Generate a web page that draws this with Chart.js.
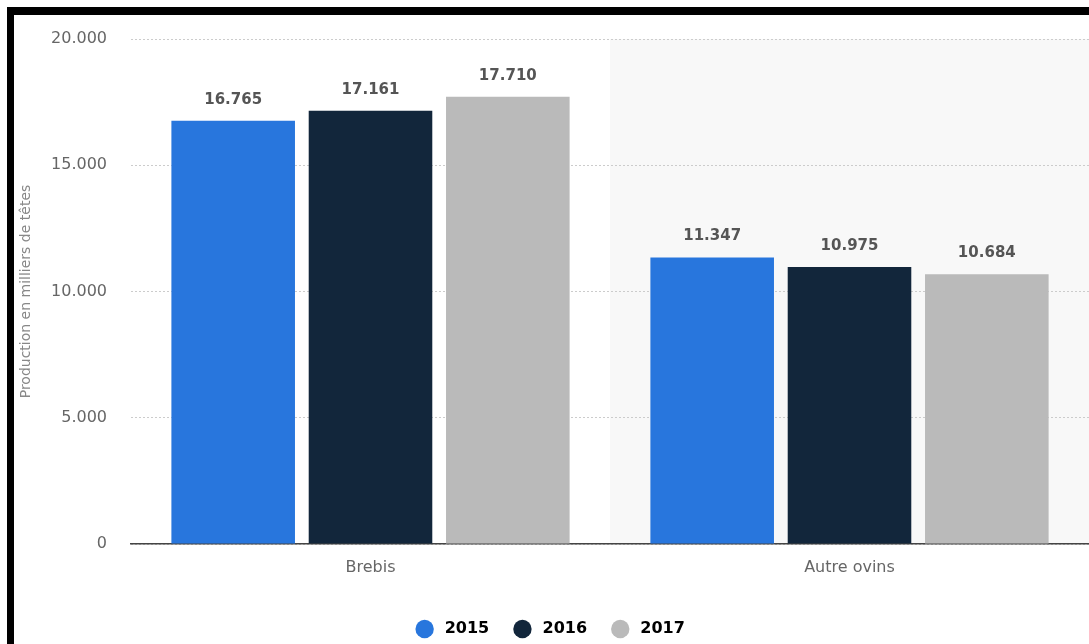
<!DOCTYPE html>
<html>
<head>
<meta charset="utf-8">
<script src="https://cdn.jsdelivr.net/npm/chart.js@4/dist/chart.umd.min.js"></script>
<style>
  html, body { margin: 0; padding: 0; background: #fff; overflow: hidden; }
  #frameLeft { position: absolute; left: 7px; top: 7px; width: 7px; height: 637px; background: #000; }
  #frameTop { position: absolute; left: 7px; top: 7px; width: 1082px; height: 8px; background: #000; }
  #wrap { position: absolute; left: 14px; top: 14px; width: 1075px; height: 633px; }
</style>
</head>
<body>
<div id="frameLeft"></div>
<div id="frameTop"></div>
<div id="wrap"><canvas id="ovinsChart"></canvas></div>
<script>
const categories = ["Brebis", "Autre ovins"];
const years = ["2015", "2016", "2017"];
const values2015 = [16765, 11347];
const values2016 = [17161, 10975];
const values2017 = [17710, 10684];
const yTicks = [0, 5000, 10000, 15000, 20000];

const colors = ["#2876dd", "#12263b", "#bababa"];
const font = "DejaVu Sans";

function fmt(v) {
    return String(v).replace(/\B(?=(\d{3})+(?!\d))/g, ".");
}

// light band behind the second category
const bandPlugin = {
    id: "band",
    beforeDraw(chart) {
        const ctx = chart.ctx;
        const x = chart.scales.x;
        const area = chart.chartArea;
        const w = (x.right - x.left) / categories.length;
        ctx.save();
        ctx.fillStyle = "#f8f8f8";
        ctx.fillRect(x.left + w, area.top, w, area.bottom - area.top);
        ctx.restore();
    }
};

// value labels above the bars
const valueLabels = {
    id: "valueLabels",
    afterDatasetsDraw(chart) {
        const ctx = chart.ctx;
        ctx.save();
        ctx.font = "bold 15px '" + font + "'";
        ctx.fillStyle = "#555555";
        ctx.textAlign = "center";
        ctx.textBaseline = "middle";
        chart.data.datasets.forEach((ds, i) => {
            chart.getDatasetMeta(i).data.forEach((bar, j) => {
                ctx.fillText(fmt(ds.data[j]), bar.x, bar.y - 21);
            });
        });
        ctx.restore();
    }
};

const legendText = [" 2015   ", " 2016   ", " 2017"];

const ctx = document.getElementById("ovinsChart").getContext("2d");
const myChart = new Chart(ctx, {
    type: "bar",
    data: {
        labels: categories,
        datasets: [
            { label: years[0], data: values2015, backgroundColor: colors[0] },
            { label: years[1], data: values2016, backgroundColor: colors[1] },
            { label: years[2], data: values2017, backgroundColor: colors[2] }
        ]
    },
    options: {
        responsive: true,
        maintainAspectRatio: false,
        animation: false,
        layout: { padding: { top: 25, right: 0, bottom: 0, left: 0 } },
        datasets: {
            bar: { categoryPercentage: 0.86, barPercentage: 0.9, borderWidth: 0 }
        },
        plugins: {
            tooltip: { enabled: false },
            legend: {
                position: "bottom",
                labels: {
                    usePointStyle: true,
                    pointStyle: "circle",
                    boxWidth: 13,
                    boxHeight: 13,
                    padding: 10,
                    color: "#444444",
                    font: { family: font, size: 16, weight: "bold", lineHeight: 1 },
                    generateLabels(chart) {
                        return chart.data.datasets.map((ds, i) => ({
                            text: legendText[i],
                            fillStyle: ds.backgroundColor,
                            strokeStyle: ds.backgroundColor,
                            lineWidth: 0,
                            pointStyle: "circle",
                            datasetIndex: i
                        }));
                    }
                }
            }
        },
        scales: {
            x: {
                grid: { display: false, drawTicks: false },
                border: { display: true, color: "#444444", width: 1.5 },
                ticks: { color: "#666666", padding: 14, font: { family: font, size: 16 } },
                afterFit(scale) { scale.height = 67; }
            },
            y: {
                min: 0,
                max: 20000,
                afterBuildTicks(scale) { scale.ticks = yTicks.map(v => ({ value: v })); },
                grid: { color: "#cccccc", drawTicks: false },
                border: { display: false, dash: [2, 2] },
                ticks: {
                    color: "#666666",
                    padding: 24,
                    font: { family: font, size: 16 },
                    callback: v => fmt(v)
                },
                title: {
                    display: true,
                    text: "Production en milliers de têtes",
                    color: "#888888",
                    padding: { top: 4, bottom: 0 },
                    font: { family: font, size: 14 }
                },
                afterFit(scale) {
                    scale.width = 117;
                    scale.paddingTop = 0;
                    scale.paddingBottom = 0;
                }
            }
        }
    },
    plugins: [bandPlugin, valueLabels]
});
</script>
</body>
</html>
